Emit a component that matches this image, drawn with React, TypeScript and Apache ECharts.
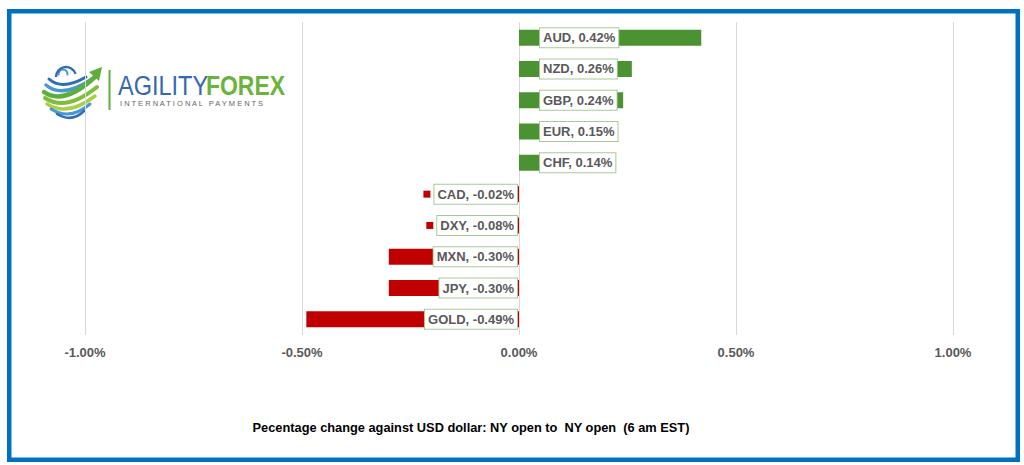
import React, { useEffect, useRef } from "react";
import * as echarts from "echarts";

const categories = ["AUD", "NZD", "GBP", "EUR", "CHF", "CAD", "DXY", "MXN", "JPY", "GOLD"];
const values = [0.42, 0.26, 0.24, 0.15, 0.14, -0.02, -0.08, -0.3, -0.3, -0.49];
const axisMin = -1;
const axisMax = 1;
const axisInterval = 0.5;
const titleText = "Pecentage change against USD dollar: NY open to  NY open  (6 am EST)";

const GREEN = "#4B9232";
const RED = "#C00000";
const FONT = "Liberation Sans";

export default function App() {
  const ref = useRef<HTMLDivElement>(null);
  useEffect(() => {
    if (!ref.current) return;
    const chart = echarts.init(ref.current, null, { renderer: "svg" });
    const fmt = (v: number) => v.toFixed(2) + "%";
    const boxStyle = {
      fontFamily: FONT,
      fontSize: 13,
      fontWeight: "bold",
      color: "#595959",
      backgroundColor: "#ffffff",
      borderColor: "#A8C99A",
      borderWidth: 1,
      padding: [3, 3, 3, 3],
      lineHeight: 15,
      verticalAlign: "middle",
    };
    const data = values.map((v) => ({
      value: v,
      itemStyle: { color: v >= 0 ? GREEN : RED },
      label: v >= 0 ? { position: "insideLeft", distance: 10 } : { position: "insideRight", distance: 2 },
    }));
    const stripes: any[] = [
      { s: [49, 79, 62, 91, 86, 77], c: "#2F6DB5", w: 3 },
      { s: [46, 85, 62, 99, 92, 79], c: "#4A97D6", w: 3.5 },
      { s: [44, 92, 64, 106, 96, 76], c: "#5DAE3A", w: 4.5 },
      { s: [45, 98, 66, 112, 97, 87], c: "#7DBE3C", w: 4 },
      { s: [47, 104, 68, 117, 95, 96], c: "#A8CF45", w: 3.5 },
      { s: [51, 109, 70, 121, 90, 104], c: "#4A97D6", w: 3 },
      { s: [57, 114, 72, 123, 84, 111], c: "#2F6DB5", w: 2.5 },
    ];
    const logo: any[] = [
      { type: "rect", shape: { x: 40, y: 62, width: 252, height: 58 }, style: { fill: "#ffffff" } },
      ...stripes.map((st) => ({
        type: "bezierCurve",
        shape: { x1: st.s[0], y1: st.s[1], cpx1: st.s[2], cpy1: st.s[3], x2: st.s[4], y2: st.s[5] },
        style: { stroke: st.c, lineWidth: st.w, fill: null, lineCap: "round" },
      })),
      {
        type: "arc",
        shape: { cx: 63, cy: 74, r: 4.5, startAngle: Math.PI * 0.9, endAngle: Math.PI * 2.1 },
        style: { stroke: "#4A97D6", lineWidth: 2, fill: null },
      },
      {
        type: "arc",
        shape: { cx: 66, cy: 77, r: 10, startAngle: Math.PI * 1.0, endAngle: Math.PI * 1.9 },
        style: { stroke: "#2F6DB5", lineWidth: 2.5, fill: null },
      },
      { type: "polygon", shape: { points: [[89, 72], [102, 67], [99, 81]] }, style: { fill: "#5DAE3A" } },
      { type: "line", shape: { x1: 109.5, y1: 70, x2: 109.5, y2: 110 }, style: { stroke: "#5DAE3A", lineWidth: 2 } },
      {
        type: "text",
        x: 118,
        y: 85,
        scaleX: 0.84,
        style: { text: "AGILITY", fontFamily: FONT, fontSize: 28, fill: "#3468B3", verticalAlign: "middle" },
      },
      {
        type: "text",
        x: 206,
        y: 85,
        scaleX: 0.82,
        style: { text: "FOREX", fontFamily: FONT, fontSize: 28, fontWeight: "bold", fill: "#6AB43E", verticalAlign: "middle" },
      },
      {
        type: "text",
        x: 120,
        y: 103,
        style: { text: "I N T E R N A T I O N A L   P A Y M E N T S", fontFamily: FONT, fontSize: 7.5, fill: "#666666", verticalAlign: "middle" },
      },
    ];
    chart.setOption({
      animation: false,
      backgroundColor: "#ffffff",
      grid: { left: 85, right: 71, top: 22, bottom: 130, containLabel: false },
      xAxis: {
        type: "value",
        min: axisMin,
        max: axisMax,
        interval: axisInterval,
        axisLine: { show: false },
        axisTick: { show: false },
        splitLine: { lineStyle: { color: "#D9D9D9", width: 1 } },
        axisLabel: {
          formatter: (v: number) => fmt(v),
          fontFamily: FONT,
          fontSize: 13,
          fontWeight: "bold",
          color: "#595959",
          margin: 11,
        },
      },
      yAxis: {
        type: "category",
        data: categories,
        inverse: true,
        axisLine: { show: false },
        axisTick: { show: false },
        axisLabel: { show: false },
        splitLine: { show: false },
      },
      series: [
        {
          type: "bar",
          data,
          barWidth: 16,
          label: {
            show: true,
            formatter: (p: any) => {
              const v = values[p.dataIndex];
              const k = v >= 0 ? "kp" : "kn";
              return "{" + k + "|}{g|}{t|" + categories[p.dataIndex] + ", " + fmt(v) + "}";
            },
            rich: {
              kp: { width: 7, height: 7, backgroundColor: GREEN, verticalAlign: "middle" },
              kn: { width: 7, height: 7, backgroundColor: RED, verticalAlign: "middle" },
              g: { width: 4, height: 7, verticalAlign: "middle" },
              t: boxStyle,
            },
          },
        },
      ],
      graphic: [
        ...logo,
        {
          type: "text",
          x: 471,
          y: 427,
          style: { text: titleText, fontFamily: FONT, fontSize: 12.8, fontWeight: "bold", fill: "#000000", align: "center", verticalAlign: "middle" },
        },
        {
          type: "rect",
          shape: { x: 9.25, y: 11.25, width: 1008.5, height: 448.5 },
          style: { fill: null, stroke: "#0070C0", lineWidth: 4.5 },
        },
      ],
    });
    return () => chart.dispose();
  }, []);
  return <div ref={ref} style={{ position: "fixed", left: 0, top: 0, width: 1024, height: 465 }} />;
}
